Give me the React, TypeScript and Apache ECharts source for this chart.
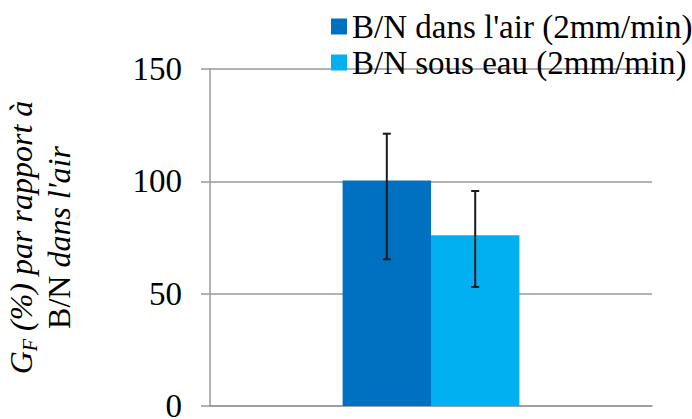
import React, { useEffect, useRef } from "react";
import * as echarts from "echarts";

const categories = ["B/N"];
const seriesNames = ["B/N dans l'air (2mm/min)", "B/N sous eau (2mm/min)"];
const airValues = [100.4];
const waterValues = [76];
const airErrLow = [65.3];
const airErrHigh = [121.2];
const waterErrLow = [53];
const waterErrHigh = [95.7];
const yTicks = [0, 50, 100, 150];

const FONT = "Liberation Serif";
const CAT_GAP = 0.6;

function errorSeries(low: number[], high: number[], side: number) {
  return {
    type: "custom",
    silent: true,
    data: categories.map((c, i) => [i, low[i], high[i]]),
    encode: { x: 0, y: [1, 2] },
    z: 10,
    renderItem: (params: any, api: any) => {
      const idx = api.value(0);
      const band = api.size([1, 0])[0];
      const barW = (band * (1 - CAT_GAP)) / 2;
      const pLow = api.coord([idx, api.value(1)]);
      const pHigh = api.coord([idx, api.value(2)]);
      const x = pLow[0] + (side * barW) / 2;
      const cap = 4;
      const style = { stroke: "#1a1a1a", lineWidth: 2, fill: null };
      return {
        type: "group",
        children: [
          { type: "line", shape: { x1: x, y1: pLow[1], x2: x, y2: pHigh[1] }, style },
          { type: "line", shape: { x1: x - cap, y1: pLow[1], x2: x + cap, y2: pLow[1] }, style },
          { type: "line", shape: { x1: x - cap, y1: pHigh[1], x2: x + cap, y2: pHigh[1] }, style },
        ],
      };
    },
  };
}

export default function App() {
  const ref = useRef<HTMLDivElement>(null);
  useEffect(() => {
    if (!ref.current) return;
    const chart = echarts.init(ref.current, null, { renderer: "svg" });
    chart.setOption({
      animation: false,
      backgroundColor: "#ffffff",
      textStyle: { fontFamily: FONT },
      grid: { left: 210, right: 40, top: 69, bottom: 13, containLabel: false, outerBoundsMode: "none" },
      legend: {
        orient: "vertical",
        left: 326,
        top: 5,
        itemWidth: 16,
        itemHeight: 16,
        itemGap: 3,
        icon: "rect",
        data: seriesNames,
        textStyle: { fontFamily: FONT, fontSize: 33, color: "#000" },
      },
      xAxis: {
        type: "category",
        data: categories,
        axisLine: { show: true, lineStyle: { color: "#999", width: 1.5 } },
        axisTick: { show: false },
        axisLabel: { show: false },
        splitLine: { show: false },
      },
      yAxis: {
        type: "value",
        min: yTicks[0],
        max: yTicks[yTicks.length - 1],
        interval: 50,
        axisLine: { show: true, lineStyle: { color: "#999", width: 1.5 } },
        axisTick: { show: true, inside: false, length: 9, lineStyle: { color: "#999", width: 1.5 } },
        splitLine: { show: true, lineStyle: { color: "#999", width: 1.5 } },
        axisLabel: { fontFamily: FONT, fontSize: 33, color: "#000", margin: 28 },
        name: "{i|G}{sub|F}{i| (%) par rapport à}\n{n|B/N} {i|dans l'air}",
        nameLocation: "middle",
        nameRotate: 90,
        nameGap: 132,
        nameTextStyle: {
          fontFamily: FONT,
          fontSize: 32,
          lineHeight: 38,
          color: "#000",
          rich: {
            i: { fontFamily: FONT, fontSize: 32, fontStyle: "italic", color: "#000", lineHeight: 38 },
            n: { fontFamily: FONT, fontSize: 32, color: "#000", lineHeight: 38 },
            sub: { fontFamily: FONT, fontSize: 20, fontStyle: "italic", color: "#000", verticalAlign: "bottom", lineHeight: 38, padding: [10, 0, 0, 0] },
          },
        },
      },
      series: [
        { name: seriesNames[0], type: "bar", data: airValues, barGap: "0%", barCategoryGap: CAT_GAP * 100 + "%", itemStyle: { color: "#0070C0" } },
        { name: seriesNames[1], type: "bar", data: waterValues, barGap: "0%", barCategoryGap: CAT_GAP * 100 + "%", itemStyle: { color: "#00B0F0" } },
        errorSeries(airErrLow, airErrHigh, -1),
        errorSeries(waterErrLow, waterErrHigh, 1),
      ],
    });
    return () => chart.dispose();
  }, []);
  return <div ref={ref} style={{ position: "fixed", left: 0, top: 0, width: 692, height: 419 }} />;
}
